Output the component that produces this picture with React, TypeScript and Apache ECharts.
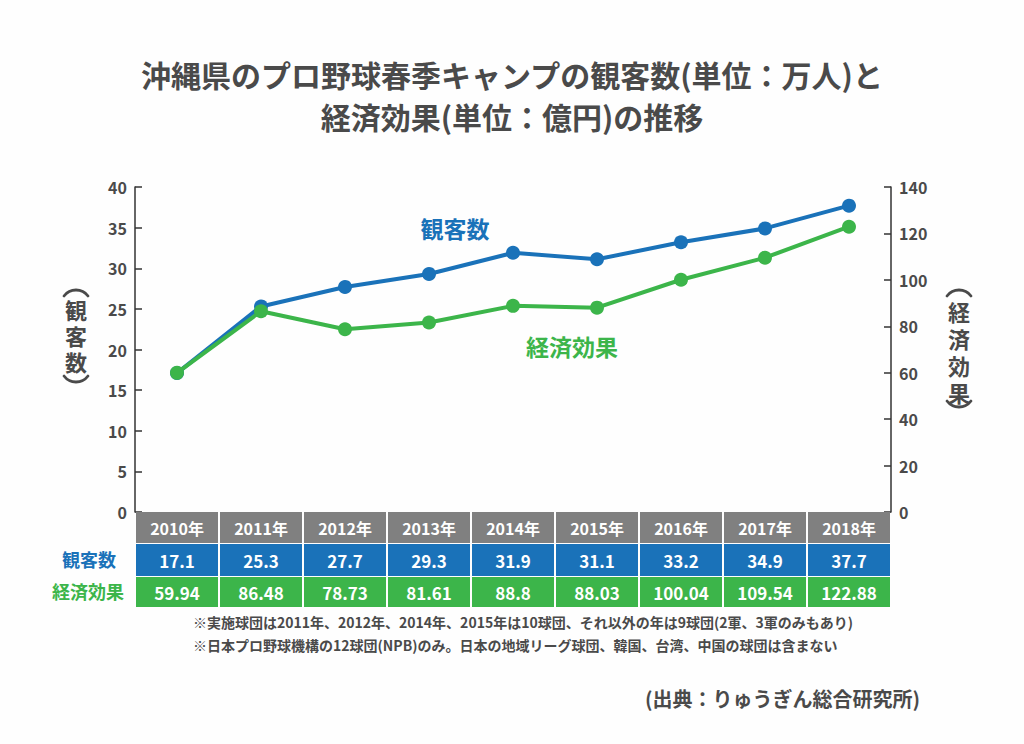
import React, { useEffect, useRef } from "react";
import * as echarts from "echarts";

const years = ["2010年", "2011年", "2012年", "2013年", "2014年", "2015年", "2016年", "2017年", "2018年"];
const visitors = [17.1, 25.3, 27.7, 29.3, 31.9, 31.1, 33.2, 34.9, 37.7];
const economic = [59.94, 86.48, 78.73, 81.61, 88.8, 88.03, 100.04, 109.54, 122.88];
const visitorsName = "観客数";
const economicName = "経済効果";
const titleLines = ["沖縄県のプロ野球春季キャンプの観客数(単位：万人)と", "経済効果(単位：億円)の推移"];
const notes = [
  "※実施球団は2011年、2012年、2014年、2015年は10球団、それ以外の年は9球団(2軍、3軍のみもあり)",
  "※日本プロ野球機構の12球団(NPB)のみ。日本の地域リーグ球団、韓国、台湾、中国の球団は含まない",
];
const sourceText = "(出典：りゅうぎん総合研究所)";

const BLUE = "#1a72b9";
const GREEN = "#3cb54a";
const GRAY = "#808080";
const TEXT = "#4a4a4a";
const FONT = "'Noto Sans CJK JP', 'Noto Sans', sans-serif";

function paren(cx: number, edgeY: number, top: boolean) {
  const half = 12;
  const sag = 6;
  const r = (half * half + sag * sag) / (2 * sag);
  const a = Math.asin(half / r);
  const cy = top ? edgeY + r : edgeY - r;
  const mid = top ? -Math.PI / 2 : Math.PI / 2;
  return {
    type: "arc",
    shape: { cx, cy, r, startAngle: mid - a, endAngle: mid + a, clockwise: true },
    style: { stroke: TEXT, lineWidth: 2.8, fill: null, lineCap: "round" },
  };
}

function verticalLabel(chars: string[], cx: number, firstY: number, step: number, parenTop: number, parenBottom: number) {
  const els: any[] = [paren(cx, parenTop, true)];
  chars.forEach((c, i) => {
    els.push({
      type: "text",
      x: cx,
      y: firstY + i * step,
      style: { text: c, fill: TEXT, font: `bold 22px ${FONT}`, align: "center", verticalAlign: "middle" },
    });
  });
  els.push(paren(cx, parenBottom, false));
  return els;
}

export default function App() {
  const ref = useRef<HTMLDivElement>(null);
  useEffect(() => {
    if (!ref.current) return;
    const chart = echarts.init(ref.current, null, { renderer: "svg" });
    const option: any = {
      animation: false,
      backgroundColor: "#fefefe",
      textStyle: { fontFamily: FONT },
      title: {
        text: titleLines.join("\n"),
        left: "center",
        top: 48,
        textStyle: { fontFamily: FONT, fontSize: 30, fontWeight: "bold", color: TEXT, lineHeight: 42 },
      },
      grid: { left: 135, right: 133, top: 187, bottom: 232 },
      xAxis: {
        type: "category",
        data: years,
        boundaryGap: true,
        axisLine: { show: false },
        axisTick: { show: false },
        axisLabel: { show: false },
        splitLine: { show: false },
      },
      yAxis: [
        {
          type: "value",
          min: 0,
          max: 40,
          interval: 5,
          axisLine: { show: true, lineStyle: { color: "#333", width: 1.5 } },
          axisTick: { show: true, inside: true, length: 7, lineStyle: { color: "#333", width: 1.5 } },
          axisLabel: { color: TEXT, fontSize: 16, fontWeight: "bold", fontFamily: FONT, margin: 8 },
          splitLine: { show: false },
        },
        {
          type: "value",
          min: 0,
          max: 140,
          interval: 20,
          position: "right",
          axisLine: { show: true, lineStyle: { color: "#333", width: 1.5 } },
          axisTick: { show: true, inside: true, length: 7, lineStyle: { color: "#333", width: 1.5 } },
          axisLabel: { color: TEXT, fontSize: 16, fontWeight: "bold", fontFamily: FONT, margin: 8 },
          splitLine: { show: false },
        },
      ],
      series: [
        {
          name: visitorsName,
          type: "line",
          yAxisIndex: 0,
          data: visitors,
          symbol: "circle",
          symbolSize: 14,
          lineStyle: { color: BLUE, width: 4 },
          itemStyle: { color: BLUE },
          z: 3,
        },
        {
          name: economicName,
          type: "line",
          yAxisIndex: 1,
          data: economic,
          symbol: "circle",
          symbolSize: 14,
          lineStyle: { color: GREEN, width: 4 },
          itemStyle: { color: GREEN },
          z: 4,
        },
        {
          type: "custom",
          xAxisIndex: 0,
          yAxisIndex: 0,
          clip: false,
          silent: true,
          z: 1,
          data: years.map((_, i) => [i, 0]),
          renderItem: (params: any, api: any) => {
            const i = api.value(0);
            const base = api.coord([i, 0]);
            const bw = api.size([1, 0])[0];
            const x0 = base[0] - bw / 2;
            const y0 = base[1];
            const rows = [
              { top: 0, h: 31, fill: GRAY, text: years[i], size: 16 },
              { top: 32, h: 32, fill: BLUE, text: String(visitors[i]), size: 17 },
              { top: 65, h: 30, fill: GREEN, text: String(economic[i]), size: 17 },
            ];
            const children: any[] = [];
            rows.forEach((r) => {
              children.push({
                type: "rect",
                shape: { x: x0 + 1, y: y0 + r.top, width: bw - 2, height: r.h },
                style: { fill: r.fill },
              });
              children.push({
                type: "text",
                x: base[0],
                y: y0 + r.top + r.h / 2,
                style: {
                  text: r.text,
                  fill: "#ffffff",
                  font: `bold ${r.size}px ${FONT}`,
                  align: "center",
                  verticalAlign: "middle",
                },
              });
            });
            return { type: "group", children };
          },
        },
      ],
      graphic: [
        ...verticalLabel(["観", "客", "数"], 76, 309, 26, 290, 382),
        ...verticalLabel(["経", "済", "効", "果"], 959, 311, 27, 290, 407),
        {
          type: "text",
          x: 455,
          y: 228,
          style: { text: visitorsName, fill: BLUE, font: `bold 23px ${FONT}`, align: "center", verticalAlign: "middle" },
        },
        {
          type: "text",
          x: 572,
          y: 346,
          style: { text: economicName, fill: GREEN, font: `bold 23px ${FONT}`, align: "center", verticalAlign: "middle" },
        },
        {
          type: "text",
          x: 116,
          y: 559,
          style: { text: visitorsName, fill: BLUE, font: `bold 18px ${FONT}`, align: "right", verticalAlign: "middle" },
        },
        {
          type: "text",
          x: 124,
          y: 591,
          style: { text: economicName, fill: GREEN, font: `bold 18px ${FONT}`, align: "right", verticalAlign: "middle" },
        },
        {
          type: "text",
          x: 193,
          y: 622,
          style: { text: notes[0], fill: TEXT, font: `bold 14px ${FONT}`, align: "left", verticalAlign: "middle" },
        },
        {
          type: "text",
          x: 193,
          y: 645,
          style: { text: notes[1], fill: TEXT, font: `bold 14px ${FONT}`, align: "left", verticalAlign: "middle" },
        },
        {
          type: "text",
          x: 920,
          y: 698,
          style: { text: sourceText, fill: TEXT, font: `bold 20px ${FONT}`, align: "right", verticalAlign: "middle" },
        },
      ],
    };
    chart.setOption(option);
    return () => chart.dispose();
  }, []);
  return <div ref={ref} style={{ position: "absolute", left: 0, top: 0, width: 1024, height: 744 }} />;
}
